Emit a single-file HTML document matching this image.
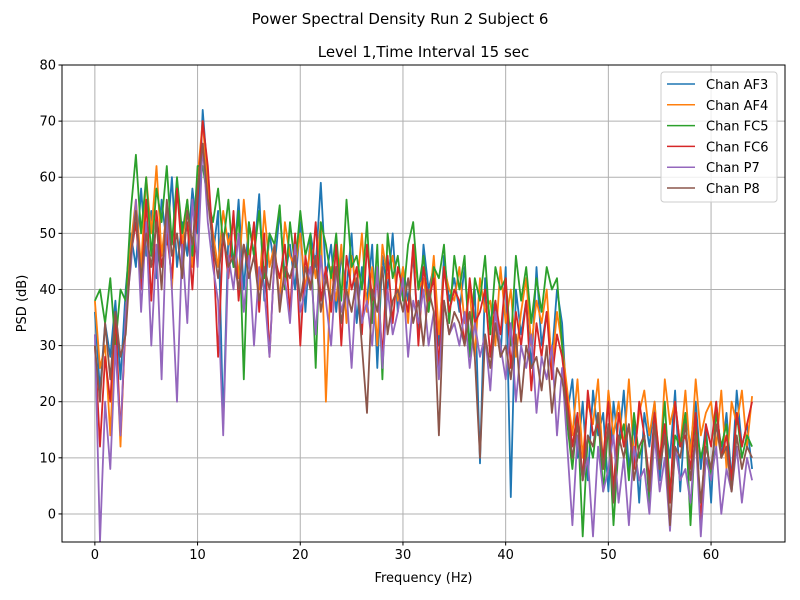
<!DOCTYPE html>
<html><head><meta charset="utf-8"><style>
html,body{margin:0;padding:0;background:#fff;}
svg{display:block;font-family:"DejaVu Sans","Liberation Sans",sans-serif;}
</style></head><body>
<svg id="chart" width="800" height="600" xmlns="http://www.w3.org/2000/svg">
<rect width="800" height="600" fill="#fff"/>
<text x="400" y="24" text-anchor="middle" font-size="15">Power Spectral Density Run 2 Subject 6</text>
<text x="423.5" y="57" text-anchor="middle" font-size="15">Level 1,Time Interval 15 sec</text>
<defs><clipPath id="clip"><rect x="62" y="65" width="723" height="477"/></clipPath></defs>
<g id="grid"></g>
<g id="series" clip-path="url(#clip)"></g>
<rect x="62" y="65" width="723" height="477" fill="none" stroke="#000" stroke-width="1"/>
<g id="ticks"></g>
<text x="423.5" y="582" text-anchor="middle" font-size="13">Frequency (Hz)</text>
<text transform="translate(26,303.5) rotate(-90)" text-anchor="middle" font-size="13">PSD (dB)</text>
<g id="legend"></g>
</svg>
<script>
const channels=["Chan AF3","Chan AF4","Chan FC5","Chan FC6","Chan P7","Chan P8"];
const colors=["#1f77b4","#ff7f0e","#2ca02c","#d62728","#9467bd","#8c564b"];
const xTicks=[0,10,20,30,40,50,60];
const yTicks=[0,10,20,30,40,50,60,70,80];
const freqStep=0.5;
const af3=[36,22,34,28,38,24,40,50,44,58,46,54,42,56,48,60,44,52,46,58,50,72,60,46,54,16,50,44,56,40,52,46,57,38,50,44,54,42,48,40,52,36,50,44,59,42,48,36,46,40,50,34,44,38,48,26,46,40,50,36,44,38,46,32,48,40,44,30,46,38,42,36,44,30,40,9,42,34,38,28,44,3,40,32,38,26,44,30,36,28,40,34,18,24,10,20,6,22,14,18,4,20,12,22,8,16,2,18,12,20,6,16,10,22,4,18,12,20,8,16,2,20,10,18,6,22,12,16,8];
const af4=[38,26,30,14,34,12,36,48,56,44,60,50,62,46,54,40,58,48,56,44,60,70,58,50,44,54,48,52,42,56,46,50,40,54,44,48,38,52,46,44,50,40,48,42,52,20,44,38,48,34,46,40,50,36,44,30,48,42,46,38,44,34,48,40,42,36,46,32,44,40,38,44,34,40,28,42,36,38,30,44,34,40,28,36,42,30,38,34,40,26,36,30,22,14,24,10,20,16,24,8,22,14,20,12,24,10,18,22,14,20,8,24,16,20,12,22,10,24,14,18,20,12,22,8,20,16,22,12,21];
const fc5=[38,40,34,42,30,40,38,54,64,50,60,46,58,52,62,48,60,50,56,46,62,62,56,52,58,48,56,44,54,24,52,46,54,42,50,48,55,40,52,44,54,46,50,26,52,48,42,50,38,56,44,46,40,52,34,48,24,50,42,46,38,48,52,40,46,36,44,42,48,34,46,40,46,28,42,38,46,32,44,40,42,30,46,38,44,34,42,36,44,40,42,30,16,8,18,-4,14,10,18,4,16,-2,12,16,6,18,10,14,2,16,8,20,4,14,12,18,-2,16,10,14,6,18,12,16,4,18,10,14,12];
const fc6=[30,12,28,20,36,14,34,46,52,40,56,38,54,44,50,42,58,46,52,40,56,70,62,48,28,50,42,54,38,48,44,52,36,50,28,46,42,48,36,50,30,46,40,52,38,44,36,48,30,46,40,44,32,48,38,42,28,46,34,44,40,36,48,30,44,38,42,26,44,36,40,38,30,42,34,36,40,28,38,32,42,26,36,30,38,22,34,28,36,24,32,28,20,12,18,6,22,14,16,10,20,4,18,12,16,8,20,14,6,18,10,16,2,20,12,14,8,18,-2,16,12,20,10,14,6,18,12,16,20];
const p7=[32,-5,20,8,30,14,36,44,56,36,52,30,48,24,54,40,20,48,34,56,44,66,52,44,38,14,46,40,50,36,46,30,44,40,28,46,38,42,34,48,36,40,44,32,46,38,30,44,36,40,26,42,34,38,30,44,26,40,32,36,42,28,38,34,40,30,36,24,38,32,34,30,36,26,34,28,32,22,36,30,24,34,20,30,26,32,18,28,24,30,14,26,12,-2,14,6,10,-4,12,4,8,14,2,10,-2,12,6,8,0,14,4,10,-3,12,6,8,2,14,-4,10,6,12,0,8,4,12,2,10,6];
const p8=[30,20,34,24,36,28,32,46,54,42,50,44,52,40,56,46,50,42,54,48,58,66,56,48,42,50,44,46,40,48,42,46,38,44,40,48,36,44,42,46,38,44,40,46,36,42,38,44,34,40,36,42,30,18,40,36,44,32,38,40,36,42,34,38,30,40,36,14,38,32,36,34,30,36,28,10,32,26,34,28,30,24,32,20,30,26,28,22,30,18,26,24,18,10,16,6,14,12,18,8,16,2,14,10,16,6,12,14,4,16,8,14,-2,12,10,16,6,14,2,12,8,16,10,12,4,14,8,12,10];
const seriesData=[af3,af4,fc5,fc6,p7,p8];
const NS="http://www.w3.org/2000/svg";
const L=62,R=785,T=65,B=542,xMin=-3.2,xMax=67.2,yMin=-5,yMax=80;
const sx=v=>L+(v-xMin)/(xMax-xMin)*(R-L);
const sy=v=>B-(v-yMin)/(yMax-yMin)*(B-T);
function mk(tag,attrs,parent){const e=document.createElementNS(NS,tag);for(const k in attrs)e.setAttribute(k,attrs[k]);parent.appendChild(e);return e;}
const grid=document.getElementById('grid'),ticks=document.getElementById('ticks');
xTicks.forEach(t=>{const x=sx(t);
 const g=mk('line',{x1:x,x2:x,y1:T,y2:B,stroke:'#b0b0b0','stroke-width':1},grid);
 
 
 mk('line',{x1:x,x2:x,y1:B,y2:B+3.5,stroke:'#000'},ticks);
 const tx=mk('text',{x:x,y:B+17,'text-anchor':'middle','font-size':13},ticks);tx.textContent=t;
 
 });
yTicks.forEach(t=>{const y=sy(t);
 const g=mk('line',{x1:L,x2:R,y1:y,y2:y,stroke:'#b0b0b0','stroke-width':1},grid);
 
 
 mk('line',{x1:L-3.5,x2:L,y1:y,y2:y,stroke:'#000'},ticks);
 const tx=mk('text',{x:L-6,y:y+4.5,'text-anchor':'end','font-size':13},ticks);tx.textContent=t;
 
 });
const sg=document.getElementById('series');
seriesData.forEach((arr,k)=>{
 const pts=arr.map((v,i)=>sx(i*freqStep).toFixed(1)+','+sy(v).toFixed(1)).join(' ');
 const pl=mk('polyline',{points:pts,fill:'none',stroke:colors[k],'stroke-width':1.8,'stroke-linejoin':'round'},sg);
 
 
});
const lg=document.getElementById('legend');
mk('rect',{x:661,y:72,width:116,height:130,rx:3,fill:'#fff','fill-opacity':0.8,stroke:'#ccc'},lg);
channels.forEach((c,k)=>{const y=84+k*20.8;
 const e=mk('line',{x1:667,x2:695,y1:y,y2:y,stroke:colors[k],'stroke-width':1.5},lg);
 
 
 const t=mk('text',{x:706,y:y+5,'font-size':13},lg);t.textContent=c;
 
 });
</script>
</body></html>
